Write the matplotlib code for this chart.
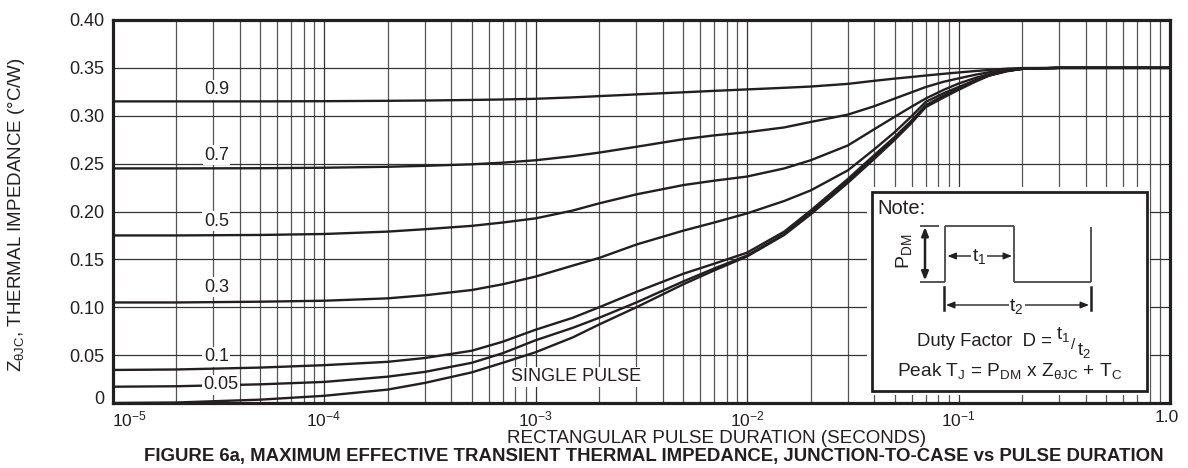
import matplotlib
matplotlib.use('Agg')
import matplotlib.pyplot as plt
from matplotlib.patches import Rectangle
from matplotlib.ticker import LogLocator, NullFormatter, FixedLocator
import matplotlib.transforms as mtrans

plt.rcParams['font.family'] = ['Liberation Sans', 'DejaVu Sans']
plt.rcParams['mathtext.fontset'] = 'custom'
plt.rcParams['mathtext.rm'] = 'Liberation Sans'
plt.rcParams['mathtext.it'] = 'Liberation Sans'
plt.rcParams['mathtext.bf'] = 'Liberation Sans:bold'
plt.rcParams['mathtext.sf'] = 'Liberation Sans'

# ---------------- data ----------------
pulse_t = [1e-5, 2e-5, 5e-5, 1e-4, 2e-4, 3e-4, 5e-4, 7e-4, 1e-3, 1.5e-3, 2e-3, 3e-3, 5e-3, 7e-3,
           1e-2, 1.5e-2, 2e-2, 3e-2, 4e-2, 5e-2, 6e-2, 7e-2, 8.5e-2, 0.1, 0.12, 0.14, 0.17, 0.2,
           0.3, 1.0]
z_d09 = [0.315, 0.315, 0.315, 0.3152, 0.3156, 0.3159, 0.3165, 0.3170, 0.3177, 0.3192, 0.3205,
         0.3223, 0.3245, 0.3260, 0.3275, 0.3292, 0.3305, 0.3333, 0.3365, 0.3388, 0.3405, 0.3420,
         0.3438, 0.3452, 0.3467, 0.3478, 0.3492, 0.3498, 0.350, 0.350]
z_d07 = [0.245, 0.245, 0.2452, 0.2457, 0.2467, 0.2477, 0.2493, 0.2510, 0.2535, 0.2578, 0.2615,
         0.2676, 0.2755, 0.2795, 0.2828, 0.2878, 0.2935, 0.3012, 0.3100, 0.3180, 0.3245, 0.3300,
         0.3355, 0.3390, 0.3428, 0.3455, 0.3480, 0.3493, 0.350, 0.350]
z_d05 = [0.175, 0.175, 0.1755, 0.1765, 0.1790, 0.1815, 0.1850, 0.1885, 0.1928, 0.2010, 0.2085,
         0.2179, 0.2276, 0.2322, 0.2365, 0.2450, 0.2535, 0.2690, 0.2860, 0.2990, 0.3095, 0.3180,
         0.3270, 0.3336, 0.3395, 0.3435, 0.3470, 0.3490, 0.350, 0.350]
z_d03 = [0.105, 0.105, 0.1058, 0.1068, 0.1093, 0.1125, 0.1180, 0.1240, 0.1320, 0.1435, 0.1515,
         0.1655, 0.1800, 0.1885, 0.1980, 0.2110, 0.2220, 0.2430, 0.2650, 0.2830, 0.2995, 0.3145,
         0.3235, 0.3300, 0.3370, 0.3420, 0.3470, 0.3490, 0.350, 0.350]
z_d01 = [0.0345, 0.035, 0.037, 0.0395, 0.0430, 0.0470, 0.0546, 0.0640, 0.0765, 0.0890, 0.1000,
         0.1160, 0.1350, 0.1455, 0.1570, 0.1790, 0.2010, 0.2340, 0.2590, 0.2780, 0.2950, 0.3110,
         0.3210, 0.3290, 0.3370, 0.3425, 0.3470, 0.3490, 0.350, 0.350]
z_d005 = [0.017, 0.0175, 0.0195, 0.022, 0.0275, 0.0325, 0.0420, 0.0520, 0.0655, 0.0785, 0.0890,
          0.1050, 0.1270, 0.1405, 0.1540, 0.1765, 0.1990, 0.2320, 0.2570, 0.2765, 0.2940, 0.3100,
          0.3200, 0.3280, 0.3365, 0.3425, 0.3470, 0.3490, 0.350, 0.350]
z_single = [0.0, 0.0005, 0.0035, 0.0075, 0.0140, 0.0210, 0.0320, 0.0420, 0.0530, 0.0685, 0.0820,
            0.1000, 0.1240, 0.1385, 0.1530, 0.1755, 0.1970, 0.2300, 0.2550, 0.2750, 0.2925, 0.3090,
            0.3190, 0.3270, 0.3355, 0.3420, 0.3465, 0.3490, 0.350, 0.350]

series = [z_d09, z_d07, z_d05, z_d03, z_d01, z_d005, z_single]
curve_labels = ['0.9', '0.7', '0.5', '0.3', '0.1', '0.05']
curve_label_y = [0.327, 0.259, 0.190, 0.121, 0.0484, 0.0188]

x_ticks = [1e-5, 1e-4, 1e-3, 1e-2, 1e-1, 1.0]
x_ticklabels = [r'$10^{-5}$', r'$10^{-4}$', r'$10^{-3}$', r'$10^{-2}$', r'$10^{-1}$', '1.0']
y_ticks = [0, 0.05, 0.10, 0.15, 0.20, 0.25, 0.30, 0.35, 0.40]
y_ticklabels = ['0', '0.05', '0.10', '0.15', '0.20', '0.25', '0.30', '0.35', '0.40']

# ---------------- figure ----------------
W, H = 1188, 468
fig = plt.figure(figsize=(W / 100, H / 100), dpi=100)
L, R, T, B = 112.5, 1170, 20, 403
ax = fig.add_axes([L / W, 1 - B / H, (R - L) / W, (B - T) / H])

def A(px, py):
    return ((px - L) / (R - L), (B - py) / (B - T))

ink = '#231f20'
ax.set_xscale('log')
ax.set_xlim(1e-5, 1.0)
ax.set_ylim(0, 0.40)
ax.xaxis.set_major_locator(FixedLocator(x_ticks))
ax.set_xticks(x_ticks)
ax.set_xticklabels(x_ticklabels)
ax.xaxis.set_minor_locator(LogLocator(base=10, subs=[2, 3, 4, 5, 6, 7, 8, 9], numticks=20))
ax.xaxis.set_minor_formatter(NullFormatter())
ax.set_yticks(y_ticks)
ax.set_yticklabels(y_ticklabels)
ax.tick_params(which='both', length=0, labelsize=13, colors=ink)
ax.tick_params(axis='x', pad=5, labelsize=12.5)
ax.tick_params(axis='y', pad=6)
ax.grid(which='major', color='#333333', lw=0.9, zorder=1)
ax.grid(which='minor', axis='x', color='#555555', lw=0.9, zorder=1)
ax.set_axisbelow(True)
for s in ax.spines.values():
    s.set_linewidth(2.3)
    s.set_color(ink)
    s.set_zorder(10)

# shift a few tick labels like the reference
xl = ax.get_xticklabels()
xl[0].set_transform(xl[0].get_transform() + mtrans.ScaledTranslation(17 / 100, 0, fig.dpi_scale_trans))
xl[-1].set_transform(xl[-1].get_transform() + mtrans.ScaledTranslation(-3 / 100, 0, fig.dpi_scale_trans))
yl = ax.get_yticklabels()
yl[0].set_transform(yl[0].get_transform() + mtrans.ScaledTranslation(0, 5 / 100, fig.dpi_scale_trans))

for z in series:
    ax.plot(pulse_t, z, color=ink, lw=1.7, zorder=3, solid_capstyle='butt', solid_joinstyle='round')

for lab, yv in zip(curve_labels, curve_label_y):
    xv = 3.25e-5 if lab == '0.05' else 3.1e-5
    ax.text(xv, yv, lab, ha='center', va='center', fontsize=13, color=ink, zorder=4,
            bbox=dict(facecolor='white', edgecolor='none', pad=1.0))
ax.text(1.55e-3, 0.0275, 'SINGLE PULSE', ha='center', va='center', fontsize=13, color=ink,
        zorder=4, bbox=dict(facecolor='white', edgecolor='none', pad=1.0))

# ---------------- note box ----------------
x0, y0 = A(867, 395)
x1, y1 = A(1150, 187)
ax.add_patch(Rectangle((x0, y0), x1 - x0, y1 - y0, transform=ax.transAxes,
                       facecolor='white', edgecolor='none', zorder=5))
x0, y0 = A(871.7, 390.7)
x1, y1 = A(1146.7, 191.7)
ax.add_patch(Rectangle((x0, y0), x1 - x0, y1 - y0, transform=ax.transAxes,
                       facecolor='white', edgecolor=ink, lw=2.0, zorder=6))

def tx(px, py, s, **kw):
    ax.text(*A(px, py), s, transform=ax.transAxes, zorder=8, color=ink, **kw)

tx(877, 208, 'Note:', fontsize=14.5, ha='left', va='center')

def seg(p, q, **kw):
    (ax_, ay_), (bx_, by_) = A(*p), A(*q)
    ax.plot([ax_, bx_], [ay_, by_], transform=ax.transAxes, zorder=7, clip_on=False, **kw)

wave = dict(color='#555555', lw=1.4, solid_capstyle='butt')
seg((920, 281.7), (945, 281.7), **wave)
seg((945, 281.7), (945, 226), **wave)
seg((945, 226), (1014, 226), **wave)
seg((1014, 226), (1014, 281.7), **wave)
seg((1014, 281.7), (1090.7, 281.7), **wave)
seg((1090.7, 281.7), (1090.7, 227.3), **wave)
seg((920, 226), (939, 226), **wave)

def arrow(p, q, lw=1.0):
    ax.annotate('', xy=A(*q), xytext=A(*p), xycoords='axes fraction', textcoords='axes fraction',
                arrowprops=dict(arrowstyle='<|-|>,head_length=0.5,head_width=0.2', color=ink,
                                lw=lw, shrinkA=0, shrinkB=0), zorder=7)

arrow((925, 227), (925, 280.5), lw=1.8)
tx(904, 251, r'P$_{\mathrm{DM}}$', fontsize=14, rotation=90, ha='center', va='center')

arrow((947.5, 256), (1012, 256))
tx(979, 257, r't$_1$', fontsize=14, ha='center', va='center',
   bbox=dict(facecolor='white', edgecolor='none', pad=0.5))

seg((944, 287.3), (944, 310), color=ink, lw=1.8)
seg((1090.7, 287.3), (1090.7, 310), color=ink, lw=1.8)
arrow((946, 305), (1089, 305))
tx(1016.7, 306, r't$_2$', fontsize=14, ha='center', va='center',
   bbox=dict(facecolor='white', edgecolor='none', pad=0.5))

tx(1052, 342, 'Duty Factor  D =', fontsize=13.3, ha='right', va='center')
tx(1056, 334, r't$_1$', fontsize=13.5, ha='left', va='center')
tx(1073.5, 345, '/', fontsize=11, ha='center', va='center')
tx(1077, 350, r't$_2$', fontsize=13.5, ha='left', va='center')
tx(1010, 371, r'Peak T$_\mathrm{J}$ = P$_{\mathrm{DM}}$ x Z$_{\theta\mathrm{JC}}$ + T$_\mathrm{C}$',
   fontsize=13.8, ha='center', va='center')

# ---------------- axis titles ----------------
fig.text(716.5 / W, 1 - 438.5 / H, 'RECTANGULAR PULSE DURATION (SECONDS)', fontsize=13.5,
         ha='center', va='center', color=ink)
fig.text(654 / W, 1 - 456 / H,
         'FIGURE 6a, MAXIMUM EFFECTIVE TRANSIENT THERMAL IMPEDANCE, JUNCTION-TO-CASE vs PULSE DURATION',
         fontsize=13.4, fontweight='bold', ha='center', va='center', color=ink)
fig.text(17 / W, 1 - 215 / H, r'Z$_{\theta\mathrm{JC}}$, THERMAL IMPEDANCE (°C/W)', fontsize=13.5,
         rotation=90, ha='center', va='center', color=ink)

fig.savefig('out.png', dpi=100, facecolor='white')
